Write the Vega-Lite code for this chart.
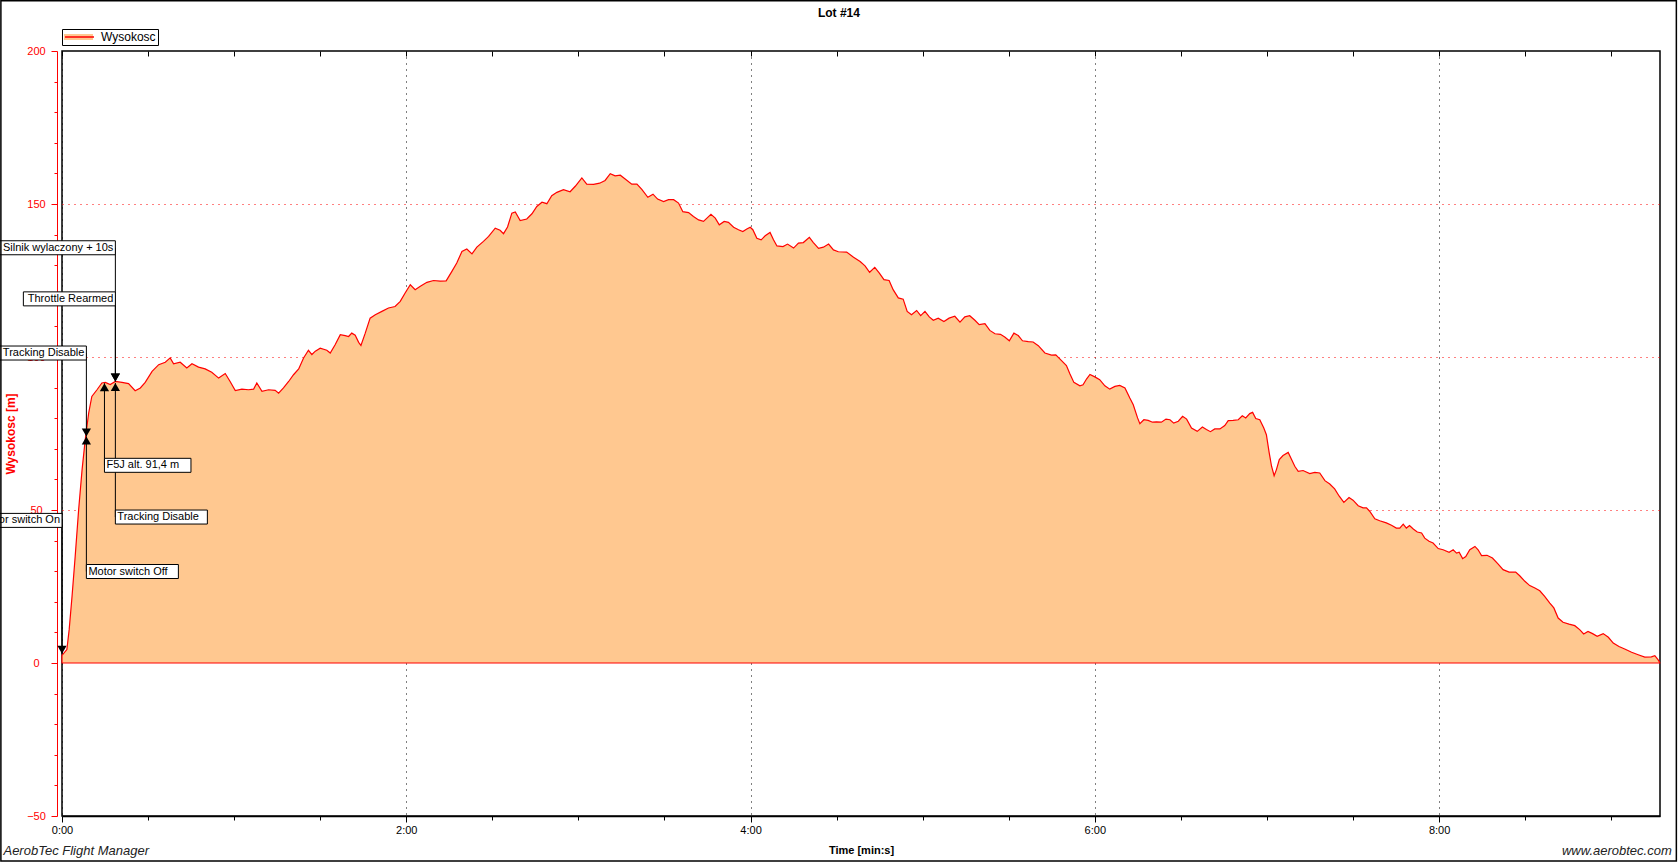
{
  "$schema": "https://vega.github.io/schema/vega-lite/v6.json",
  "width": 1598,
  "height": 765,
  "autosize": "none",
  "padding": {"left": 62, "top": 51, "right": 18, "bottom": 47},
  "background": "white",
  "config": {
    "view": {"stroke": "black", "strokeWidth": 1.5},
    "font": "Liberation Sans"
  },
  "resolve": {"axis": {"x": "independent", "y": "independent"}},
  "datasets": {
    "flight": [
      {"t":0,"alt":2.5},{"t":1.7,"alt":4.4},{"t":2.5,"alt":10.9},{"t":3.5,"alt":21.8},{"t":4.6,"alt":34.9},{"t":5.8,"alt":50.1},{"t":7.0,"alt":63.2},{"t":8.1,"alt":73},{"t":9.3,"alt":81.7},{"t":10.4,"alt":87.1},{"t":12.2,"alt":89.3},{"t":13.9,"alt":91.5},{"t":15.1,"alt":91.7},{"t":16.8,"alt":91},{"t":18.6,"alt":92},{"t":20.9,"alt":91.7},{"t":23.2,"alt":91.3},{"t":25.5,"alt":89},{"t":27.3,"alt":89.9},{"t":29,"alt":91.7},{"t":31.4,"alt":95.3},{"t":33.7,"alt":97.5},{"t":36,"alt":98.3},{"t":37.7,"alt":99.7},{"t":38.9,"alt":97.8},{"t":41.2,"alt":98.3},{"t":43.5,"alt":96.4},{"t":45.3,"alt":97.8},{"t":47.6,"alt":96.7},{"t":49.9,"alt":96.1},{"t":52.2,"alt":95},{"t":54.6,"alt":93.1},{"t":56.9,"alt":94.6},{"t":58.6,"alt":92},{"t":60.4,"alt":89},{"t":62.7,"alt":89.5},{"t":65,"alt":89.3},{"t":66.8,"alt":89.5},{"t":67.9,"alt":91.5},{"t":69.7,"alt":88.8},{"t":72,"alt":89.3},{"t":74.3,"alt":89.1},{"t":75.5,"alt":88.2},{"t":77.2,"alt":89.9},{"t":79,"alt":92},{"t":80.7,"alt":94.2},{"t":82.5,"alt":96.1},{"t":84.2,"alt":99.7},{"t":85.9,"alt":102.2},{"t":87.1,"alt":100.8},{"t":88.3,"alt":101.9},{"t":90,"alt":102.9},{"t":92.3,"alt":102.2},{"t":93.5,"alt":101.3},
      {"t":95.2,"alt":104},{"t":97,"alt":107.3},{"t":98.7,"alt":107},{"t":99.9,"alt":106.7},{"t":101,"alt":107.8},{"t":102.2,"alt":107.1},{"t":103.4,"alt":104.8},{"t":104.2,"alt":103.8},{"t":105.7,"alt":107.8},{"t":107.4,"alt":112.7},{"t":109.2,"alt":113.8},{"t":111.5,"alt":114.9},{"t":113.8,"alt":116},{"t":116.1,"alt":116.5},{"t":117.9,"alt":118.2},{"t":119.6,"alt":120.9},{"t":121.4,"alt":123.6},{"t":123.1,"alt":122},{"t":124.9,"alt":123.1},{"t":127.2,"alt":124.4},{"t":129.5,"alt":125},{"t":131.8,"alt":124.8},{"t":133.9,"alt":124.9},{"t":135.9,"alt":128},{"t":137.6,"alt":130.7},{"t":139.4,"alt":134.5},{"t":141.1,"alt":135.3},{"t":142.9,"alt":133.7},{"t":144.6,"alt":135.9},{"t":146.9,"alt":137.8},{"t":148.7,"alt":139.4},{"t":151,"alt":142.1},{"t":152.7,"alt":141.4},{"t":153.9,"alt":140.3},{"t":155.3,"alt":142.5},{"t":156.8,"alt":147},{"t":158,"alt":147.4},{"t":159.7,"alt":144.6},{"t":162,"alt":145.1},{"t":163.8,"alt":146.8},{"t":165.5,"alt":149.2},{"t":167.3,"alt":150.6},{"t":169,"alt":150.1},{"t":170.7,"alt":152.7},{"t":172.5,"alt":153.8},{"t":174.8,"alt":154.7},{"t":177.1,"alt":154},{"t":178.9,"alt":155.8},{"t":181.2,"alt":158.5},{"t":182.9,"alt":156.5},{"t":185.3,"alt":156.4},{"t":187.4,"alt":156.8},
      {"t":189.3,"alt":157.7},{"t":191.1,"alt":159.9},{"t":192.8,"alt":159.2},{"t":194.6,"alt":159.4},{"t":196.3,"alt":158.2},{"t":198.6,"alt":156.5},{"t":200.4,"alt":156.5},{"t":202.1,"alt":154.8},{"t":204.2,"alt":152.2},{"t":206,"alt":153.2},{"t":207.6,"alt":151.6},{"t":209.7,"alt":150.8},{"t":211.4,"alt":151.4},{"t":213.2,"alt":151.4},{"t":214.9,"alt":150.3},{"t":216.4,"alt":147.5},{"t":218.4,"alt":147.2},{"t":220.1,"alt":145.9},{"t":221.9,"alt":144.8},{"t":223.6,"alt":144.3},{"t":224.8,"alt":145.4},{"t":226.2,"alt":146.6},{"t":227.7,"alt":145.4},{"t":229.1,"alt":143.2},{"t":230.8,"alt":144.3},{"t":232.3,"alt":144},{"t":234.1,"alt":142.4},{"t":235.8,"alt":141.6},{"t":237.3,"alt":141},{"t":238.7,"alt":141.8},{"t":239.9,"alt":142.4},{"t":240.8,"alt":141.6},{"t":242.2,"alt":138.8},{"t":243.7,"alt":138.3},{"t":245.1,"alt":139.6},{"t":246.8,"alt":140.7},{"t":248,"alt":138.3},{"t":249.2,"alt":136.3},{"t":251.3,"alt":136.1},{"t":252.9,"alt":136.9},{"t":255,"alt":135.6},{"t":256.7,"alt":137.2},{"t":258.4,"alt":137.4},{"t":260.5,"alt":139.1},{"t":261.9,"alt":137.4},{"t":263.7,"alt":135.5},{"t":265.4,"alt":135.9},{"t":267.2,"alt":136.9},{"t":268.9,"alt":135},{"t":270.6,"alt":134.4},{"t":273.5,"alt":134.3},{"t":275.9,"alt":132.6},{"t":278.2,"alt":131.2},{"t":279.9,"alt":129.8},
      {"t":281.5,"alt":127.7},{"t":283.3,"alt":129.3},{"t":284.9,"alt":127.4},{"t":286.5,"alt":125.3},{"t":288.3,"alt":125},{"t":289.7,"alt":122},{"t":291.5,"alt":119.3},{"t":293.2,"alt":118.9},{"t":294.6,"alt":114.9},{"t":296.1,"alt":113.8},{"t":297.9,"alt":115.2},{"t":299.3,"alt":113.5},{"t":300.8,"alt":114.9},{"t":302.3,"alt":113.1},{"t":303.7,"alt":112},{"t":305.4,"alt":112.7},{"t":307.4,"alt":111.6},{"t":309.2,"alt":112.7},{"t":311.2,"alt":113.3},{"t":313,"alt":111.4},{"t":314.7,"alt":113.1},{"t":316.4,"alt":113.5},{"t":318.2,"alt":112},{"t":319.7,"alt":110.6},{"t":321.7,"alt":110.9},{"t":323.4,"alt":108.7},{"t":325.2,"alt":107.6},{"t":327.1,"alt":107.4},{"t":328.6,"alt":106.5},{"t":330.2,"alt":105.3},{"t":331.8,"alt":107.8},{"t":333.3,"alt":107},{"t":334.8,"alt":105.3},{"t":336.8,"alt":105},{"t":338.5,"alt":104.9},{"t":340.3,"alt":103.7},{"t":342.6,"alt":101.3},{"t":344.9,"alt":100.6},{"t":346.4,"alt":100.7},{"t":348.4,"alt":98.8},{"t":350.1,"alt":97.2},{"t":351.3,"alt":94.5},{"t":352.7,"alt":91.7},{"t":354.8,"alt":90.6},{"t":355.9,"alt":90.9},{"t":357.1,"alt":92.8},{"t":358.3,"alt":94.3},{"t":360,"alt":93.5},{"t":361.7,"alt":92.6},{"t":363.5,"alt":90.6},{"t":365.2,"alt":89.5},{"t":367,"alt":90.4},{"t":368.7,"alt":90.7},{"t":370.5,"alt":89.9},{"t":372.2,"alt":86.6},{"t":373.4,"alt":84.4},{"t":374.9,"alt":80.1},
      {"t":375.7,"alt":78.2},{"t":377.1,"alt":79.5},{"t":378.6,"alt":79.3},{"t":380.1,"alt":78.7},{"t":381.5,"alt":78.8},{"t":383.2,"alt":78.7},{"t":384.8,"alt":79.7},{"t":386.2,"alt":79.5},{"t":387.5,"alt":78.4},{"t":389.1,"alt":79},{"t":390.6,"alt":80.6},{"t":392,"alt":79.7},{"t":393.7,"alt":76.8},{"t":395.7,"alt":75.7},{"t":397.5,"alt":77.1},{"t":398.9,"alt":76.3},{"t":400.3,"alt":75.6},{"t":401.8,"alt":76.5},{"t":403.6,"alt":76.5},{"t":405.3,"alt":77.6},{"t":406.5,"alt":79.2},{"t":408.2,"alt":79.3},{"t":410,"alt":79.5},{"t":411.4,"alt":80.8},{"t":412.6,"alt":80.1},{"t":414,"alt":81.5},{"t":415,"alt":81.9},{"t":416.1,"alt":79.9},{"t":417.5,"alt":79.5},{"t":418.9,"alt":76.8},{"t":419.8,"alt":74.6},{"t":420.8,"alt":68.6},{"t":421.6,"alt":64.3},{"t":422.5,"alt":61.2},{"t":423.3,"alt":63.2},{"t":424.3,"alt":66.5},{"t":425.6,"alt":67.8},{"t":427.4,"alt":68.8},{"t":428.5,"alt":66.7},{"t":429.7,"alt":64.3},{"t":430.9,"alt":62.6},{"t":432.6,"alt":62.9},{"t":434.9,"alt":61.9},{"t":436.7,"alt":62.3},{"t":438.4,"alt":62.1},{"t":440.2,"alt":59.6},{"t":441.9,"alt":58.5},{"t":443.6,"alt":56.9},{"t":445.2,"alt":54.5},{"t":446.8,"alt":52.5},{"t":448.6,"alt":54.1},{"t":450,"alt":53.2},{"t":451.8,"alt":51.4},{"t":453.5,"alt":50.7},{"t":454.7,"alt":50.7},{"t":455.8,"alt":49.6},{"t":457.6,"alt":47.1},{"t":459.3,"alt":46.5},{"t":461.6,"alt":45.8},{"t":463.4,"alt":45},{"t":465.1,"alt":44.1},{"t":466.3,"alt":44.1},{"t":467.5,"alt":45.4},{"t":468.6,"alt":44.1},{"t":469.7,"alt":44.9},
      {"t":471,"alt":43.8},{"t":472.4,"alt":42.8},{"t":473.9,"alt":42.5},{"t":475,"alt":40.8},{"t":476.5,"alt":39.8},{"t":477.9,"alt":39.2},{"t":479.7,"alt":37.4},{"t":481.4,"alt":37},{"t":483.5,"alt":36.2},{"t":484.9,"alt":37},{"t":486.1,"alt":35.9},{"t":487,"alt":36.2},{"t":488.2,"alt":34.1},{"t":489.3,"alt":34.8},{"t":490.7,"alt":37},{"t":492.5,"alt":38.1},{"t":493.6,"alt":37},{"t":494.8,"alt":35.1},{"t":496.7,"alt":35.2},{"t":498.6,"alt":34.3},{"t":500.6,"alt":32.3},{"t":502.3,"alt":30.5},{"t":504.4,"alt":29.7},{"t":506.7,"alt":29.7},{"t":508.1,"alt":28.5},{"t":509.9,"alt":26.7},{"t":511.6,"alt":25.3},{"t":513.4,"alt":24.5},{"t":515.1,"alt":23.6},{"t":516.8,"alt":21.8},{"t":518.6,"alt":19.6},{"t":520,"alt":18},{"t":521.5,"alt":14.7},{"t":523.2,"alt":13.3},{"t":525.3,"alt":12.7},{"t":527.3,"alt":12.2},{"t":529,"alt":10.9},{"t":530.4,"alt":9.5},{"t":531.9,"alt":10.3},{"t":533.5,"alt":9.6},{"t":535.1,"alt":8.7},{"t":537.2,"alt":9.6},{"t":539,"alt":8.4},{"t":540.7,"alt":6.5},{"t":542.7,"alt":5.4},{"t":544.7,"alt":4.6},{"t":547.1,"alt":3.5},{"t":549.4,"alt":2.7},{"t":551.7,"alt":1.9},{"t":554,"alt":2},{"t":555.2,"alt":2.4},{"t":556.3,"alt":1.1},{"t":556.9,"alt":0.2}
    ],
    "events": [
      {"label": "Motor switch On", "t": 0, "alt": 3, "labelAlt": 46.6, "side": "above"},
      {"label": "Tracking Disable", "t": 8.5, "alt": 74, "labelAlt": 101.3, "side": "above"},
      {"label": "Motor switch Off", "t": 8.5, "alt": 74, "labelAlt": 29.9, "side": "below"},
      {"label": "F5J alt. 91,4 m", "t": 14.8, "alt": 91.4, "labelAlt": 64.6, "side": "below"},
      {"label": "Tracking Disable", "t": 18.6, "alt": 91.5, "labelAlt": 47.7, "side": "below"},
      {"label": "Throttle Rearmed", "t": 18.6, "alt": 92, "labelAlt": 119, "side": "above"},
      {"label": "Silnik wylaczony + 10s", "t": 18.6, "alt": 92, "labelAlt": 135.7, "side": "above"}
    ]
  },
  "layer": [
    {
      "data": {"name": "flight"},
      "mark": {"type": "area", "strokeWidth": 1.2},
      "encoding": {
        "x": {
          "field": "t", "type": "quantitative",
          "scale": {"domain": [0, 557], "nice": false, "zero": false},
          "axis": {
            "orient": "bottom",
            "values": [0, 120, 240, 360, 480],
            "labelExpr": "floor(datum.value/60) + ':00'",
            "title": "Time [min:s]", "titleFontSize": 11, "titleFontWeight": "bold", "titleColor": "black", "titlePadding": 9,
            "labelFontSize": 11, "labelColor": "black", "labelPadding": 2, "labelFlush": false, "labelOverlap": false,
            "domainColor": "black", "domainWidth": 1.5, "tickColor": "black", "tickSize": 6,
            "grid": true, "gridColor": "black", "gridDash": [1, 5]
          }
        },
        "y": {
          "field": "alt", "type": "quantitative",
          "scale": {"domain": [-50, 200], "nice": false, "zero": false},
          "axis": {
            "orient": "left",
            "values": [-50, 0, 50, 100, 150, 200],
            "title": "Wysokosc [m]", "titleColor": "#FF0000", "titleFontSize": 12, "titleFontWeight": "bold", "titlePadding": 9,
            "labelColor": "#FF0000", "labelFontSize": 11, "labelAlign": "center", "labelPadding": 15, "labelOverlap": false, "labelFlush": false,
            "domainColor": "#FF0000", "tickColor": "#FF0000", "tickSize": 6,
            "offset": 5, "grid": false
          }
        },
        "fill": {
          "datum": "Wysokosc", "type": "nominal",
          "scale": {"range": ["#FFC890"]},
          "legend": {"orient": "none", "legendX": 0, "legendY": -22, "title": null, "symbolType": "M-1,-0.2H1V0.2H-1Z", "symbolSize": 841, "symbolStrokeWidth": 0, "labelFontSize": 12, "labelColor": "black", "labelOffset": 8, "labelExpr": "'Wysokosc '", "strokeColor": "black", "padding": 2, "clipHeight": 12}
        },
        "stroke": {
          "datum": "Wysokosc line", "type": "nominal",
          "scale": {"range": ["#FF0000"]},
          "legend": {"orient": "none", "legendX": 0, "legendY": -22, "title": null, "symbolType": "stroke", "symbolSize": 841, "symbolStrokeWidth": 1.5, "labelFontSize": 12, "labelOpacity": 0, "labelOffset": 8, "padding": 2, "clipHeight": 12, "labelExpr": "'Wysokosc'"}
        }
      }
    },
    {
      "data": {"name": "events"},
      "mark": {"type": "rule", "color": "black", "strokeWidth": 1},
      "encoding": {
        "x": {"field": "t", "type": "quantitative", "axis": {"orient": "bottom", "values": [30,60,90,150,180,210,270,300,330,390,420,450,510,540], "labels": false, "tickSize": 4, "tickColor": "black", "domain": false, "grid": false, "title": null}},
        "y": {"field": "labelAlt", "type": "quantitative", "axis": {"orient": "left", "values": [-40,-30,-20,-10,10,20,30,40,60,70,80,90,110,120,130,140,160,170,180,190], "labels": false, "tickSize": 3, "tickColor": "#FF0000", "domain": false, "grid": false, "title": null, "offset": 5}},
        "y2": {"field": "alt"}
      }
    },
    {
      "data": {"name": "events"},
      "mark": {
        "type": "rect", "fill": "white", "stroke": "black", "strokeWidth": 1,
        "xOffset": {"expr": "datum.side == 'above' ? -(length(datum.label) * 5.5 + 4) : 0"},
        "x2Offset": {"expr": "datum.side == 'above' ? 0 : (length(datum.label) * 5.5 + 4)"},
        "yOffset": -7, "y2Offset": 7
      },
      "encoding": {
        "x": {"field": "t", "type": "quantitative", "axis": {"orient": "top", "values": [0,30,60,90,120,150,180,210,240,270,300,330,360,390,420,450,480,510,540], "labels": false, "tickSize": -5, "tickColor": "black", "domain": false, "grid": false, "title": null}},
        "x2": {"field": "t"},
        "y": {"field": "labelAlt", "type": "quantitative", "axis": {"orient": "left", "values": [50, 100, 150], "labels": false, "ticks": false, "domain": false, "grid": true, "gridColor": "#FF0000", "gridDash": [1, 5], "title": null}},
        "y2": {"field": "labelAlt"}
      }
    },
    {
      "data": {"name": "events"},
      "transform": [{"filter": "datum.side == 'above'"}],
      "mark": {"type": "text", "align": "right", "baseline": "middle", "dx": -2, "fontSize": 11, "color": "black"},
      "encoding": {
        "x": {"field": "t", "type": "quantitative", "axis": null},
        "y": {"field": "labelAlt", "type": "quantitative", "axis": null},
        "text": {"field": "label"}
      }
    },
    {
      "data": {"name": "events"},
      "transform": [{"filter": "datum.side == 'below'"}],
      "mark": {"type": "text", "align": "left", "baseline": "middle", "dx": 2, "fontSize": 11, "color": "black"},
      "encoding": {
        "x": {"field": "t", "type": "quantitative", "axis": null},
        "y": {"field": "labelAlt", "type": "quantitative", "axis": null},
        "text": {"field": "label"}
      }
    },
    {
      "data": {"name": "events"},
      "transform": [{"filter": "datum.side == 'above'"}],
      "mark": {"type": "point", "shape": "triangle-down", "filled": true, "color": "black", "size": 85, "opacity": 1, "yOffset": -4},
      "encoding": {
        "x": {"field": "t", "type": "quantitative", "axis": null},
        "y": {"field": "alt", "type": "quantitative", "axis": null}
      }
    },
    {
      "data": {"name": "events"},
      "transform": [{"filter": "datum.side == 'below'"}],
      "mark": {"type": "point", "shape": "triangle-up", "filled": true, "color": "black", "size": 85, "opacity": 1, "yOffset": 4},
      "encoding": {
        "x": {"field": "t", "type": "quantitative", "axis": null},
        "y": {"field": "alt", "type": "quantitative", "axis": null}
      }
    },
    {
      "data": {"values": [{"label": "Lot #14"}]},
      "mark": {"type": "text", "align": "center", "baseline": "middle", "fontSize": 12, "fontWeight": "bold", "color": "black"},
      "encoding": {
        "x": {"datum": 270.8, "type": "quantitative", "axis": null},
        "y": {"datum": 212.5, "type": "quantitative", "axis": null},
        "text": {"field": "label"}
      }
    },
    {
      "data": {"values": [{"label": "AerobTec Flight Manager"}]},
      "mark": {"type": "text", "align": "left", "baseline": "middle", "fontSize": 13, "fontStyle": "italic", "color": "#222222"},
      "encoding": {
        "x": {"datum": -20.4, "type": "quantitative", "axis": null},
        "y": {"datum": -61.5, "type": "quantitative", "axis": null},
        "text": {"field": "label"}
      }
    },
    {
      "data": {"values": [{"label": "www.aerobtec.com"}]},
      "mark": {"type": "text", "align": "right", "baseline": "middle", "fontSize": 13, "fontStyle": "italic", "color": "#222222"},
      "encoding": {
        "x": {"datum": 561.1, "type": "quantitative", "axis": null},
        "y": {"datum": -61.5, "type": "quantitative", "axis": null},
        "text": {"field": "label"}
      }
    },
    {
      "data": {"values": [{"frame": "outer"}]},
      "mark": {"type": "rect", "fill": null, "fillOpacity": 0, "stroke": "black", "strokeWidth": 1.5},
      "encoding": {
        "x": {"datum": -21.3, "type": "quantitative", "axis": null},
        "x2": {"datum": 562.7},
        "y": {"datum": 216.4, "type": "quantitative", "axis": null},
        "y2": {"datum": -64.7}
      }
    }
  ]
}
